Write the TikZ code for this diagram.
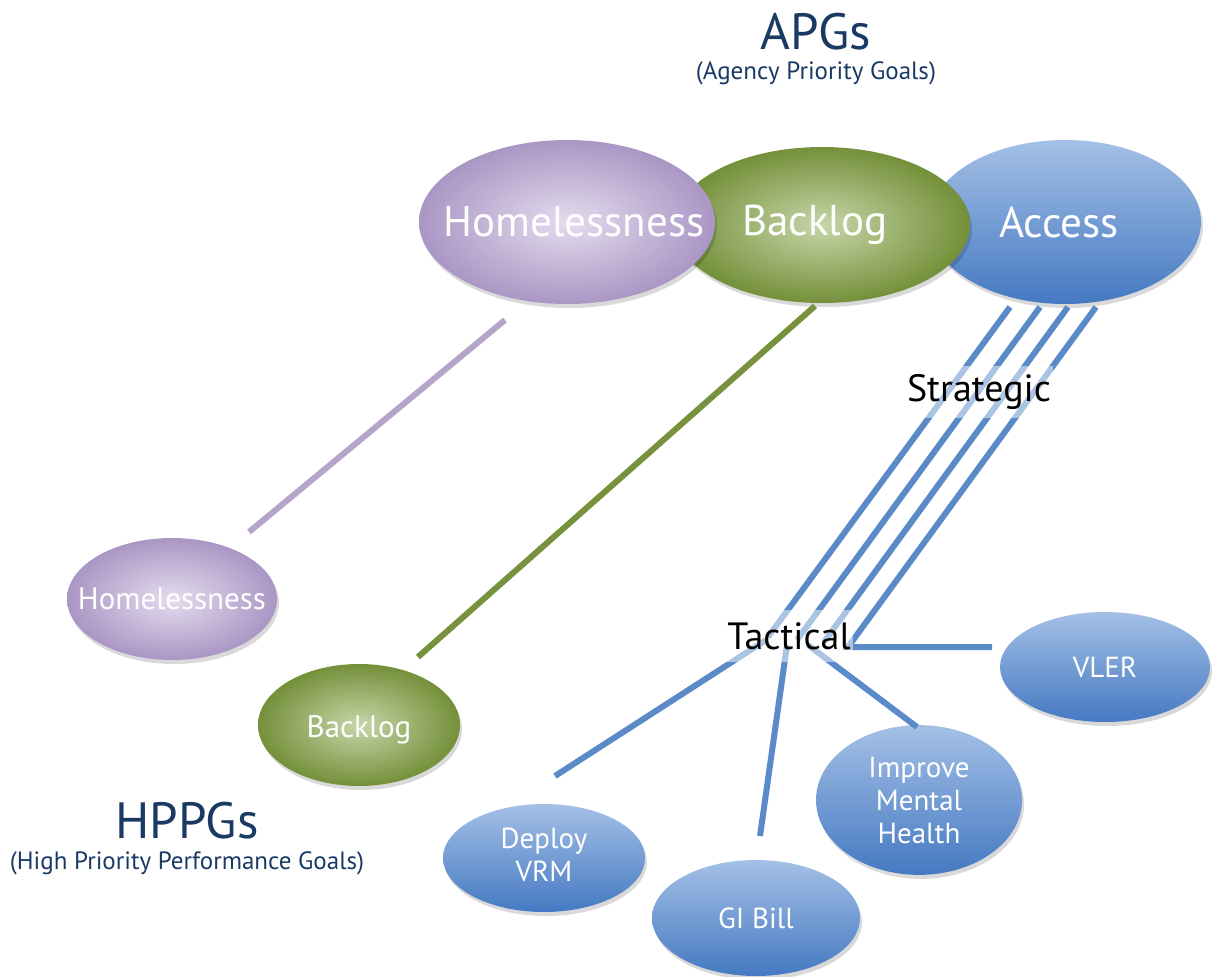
\documentclass[tikz,border=0pt]{standalone}
\usepackage{fontspec}
\setmainfont{PT Sans}
\usetikzlibrary{shapes.geometric,shadows}
\definecolor{navy}{HTML}{1A3A64}
\definecolor{purpC}{HTML}{E4DCEE}
\definecolor{purpE}{HTML}{AA96C4}
\definecolor{grnC}{HTML}{C6D6A8}
\definecolor{grnE}{HTML}{74903A}
\definecolor{bluT}{HTML}{A4C0E6}
\definecolor{bluB}{HTML}{4579C2}
\definecolor{lpurp}{HTML}{B4A5C9}
\definecolor{lgrn}{HTML}{76923C}
\definecolor{lblu}{HTML}{5A8AC8}
\begin{document}
\begin{tikzpicture}[x=1pt,y=-1pt,
  ell/.style={ellipse, draw=none, inner sep=0pt, text=white,
    drop shadow={shadow xshift=2pt, shadow yshift=-4pt, opacity=0.15, fill=black}},
  purp/.style={ell, inner color=purpC, outer color=purpE},
  grn/.style={ell, inner color=grnC, outer color=grnE},
  blu/.style={ell, top color=bluT, bottom color=bluB},
  bigtxt/.style={font=\fontsize{43}{50}\selectfont},
  smtxt/.style={font=\fontsize{29}{33}\selectfont},
  title/.style={text=navy, font=\fontsize{51}{58}\selectfont, inner sep=0pt, anchor=base},
  subtitle/.style={text=navy, font=\fontsize{25}{30}\selectfont, inner sep=0pt, anchor=base},
  lvl/.style={fill=white, fill opacity=0.5, text opacity=1, text=black,
    font=\fontsize{38}{44}\selectfont, inner xsep=2pt, minimum height=52pt},
  conn/.style={line width=6pt},
]
\useasboundingbox (0,0) rectangle (1216,977);

% titles
\node[title] (apg) at (816,49) {APGs};
\node[subtitle] (apgs) at (816,79) {(Agency Priority Goals)};
\node[title] (hppg) at (187,838) {HPPGs};
\node[subtitle] (hppgs) at (187,869) {(High Priority Performance Goals)};

% top ellipses (blue below green below purple)
\node[blu, minimum width=272pt, minimum height=164pt, bigtxt] (acc) at (1065,222) {\makebox[0pt]{\hspace{-12pt}Access}};
\node[grn, minimum width=296pt, minimum height=156pt, bigtxt] (blg) at (822,225) {\makebox[0pt]{\hspace{-14pt}Backlog}};
\node[purp, minimum width=296pt, minimum height=164pt, bigtxt] (hom) at (567,222) {\makebox[0pt]{\hspace{14pt}Homelessness}};

% lower ellipses
\node[purp, minimum width=210pt, minimum height=122pt, font=\fontsize{31}{36}\selectfont] (hom2) at (172,599) {\makebox[0pt]{Homelessness}};
\node[grn, minimum width=202pt, minimum height=122pt, font=\fontsize{31}{36}\selectfont] (blg2) at (359,725) {\makebox[0pt]{\raisebox{-5pt}[0pt][0pt]{Backlog}}\vphantom{Bg}};
\node[blu, minimum width=202pt, minimum height=108pt, smtxt] (vrm) at (544,858) {\makebox[0pt]{\begin{tabular}{@{}c@{}}Deploy\\VRM\end{tabular}}};
\node[blu, minimum width=208pt, minimum height=116pt, smtxt] (gib) at (756,918) {\makebox[0pt]{GI Bill}};
\node[blu, minimum width=206pt, minimum height=122pt, smtxt] (mh) at (919,800) {\makebox[0pt]{\begin{tabular}{@{}c@{}}\rule{0pt}{30pt}Improve\\Mental\\Health\end{tabular}}};
\node[blu, minimum width=210pt, minimum height=110pt, smtxt] (vler) at (1105,667) {\makebox[0pt]{VLER}};

% connector end points
\coordinate (p1) at (505,320); \coordinate (p2) at (249,532);
\coordinate (g1) at (815,306); \coordinate (g2) at (418,657);
\coordinate (t1) at (1010,307); \coordinate (b1) at (768,637);
\coordinate (t2) at (1040,307); \coordinate (b2) at (797,640);
\coordinate (t3) at (1068,307); \coordinate (b3) at (824,642);
\coordinate (t4) at (1096,307); \coordinate (b4) at (848,647);
\coordinate (v1) at (992,647);
\coordinate (d1) at (555,776); \coordinate (d2) at (766,640);
\coordinate (gi1) at (760,836); \coordinate (gi2) at (787,645);
\coordinate (m1) at (917,727); \coordinate (m2) at (808,645);

% connectors
\draw[conn, lpurp] (p1) -- (p2);
\draw[conn, lgrn] (g1) -- (g2);
\draw[conn, lblu] (t1) -- (b1);
\draw[conn, lblu] (t2) -- (b2);
\draw[conn, lblu] (t3) -- (b3);
\draw[conn, lblu] (t4) -- (b4) -- (v1);
\draw[conn, lblu] (d1) -- (d2);
\draw[conn, lblu] (gi1) -- (gi2);
\draw[conn, lblu] (m1) -- (m2);

% level labels
\node[lvl] (strat) at (979,392) {Strategic};
\node[lvl] (tact) at (789,636) {Tactical};
\end{tikzpicture}
\end{document}
